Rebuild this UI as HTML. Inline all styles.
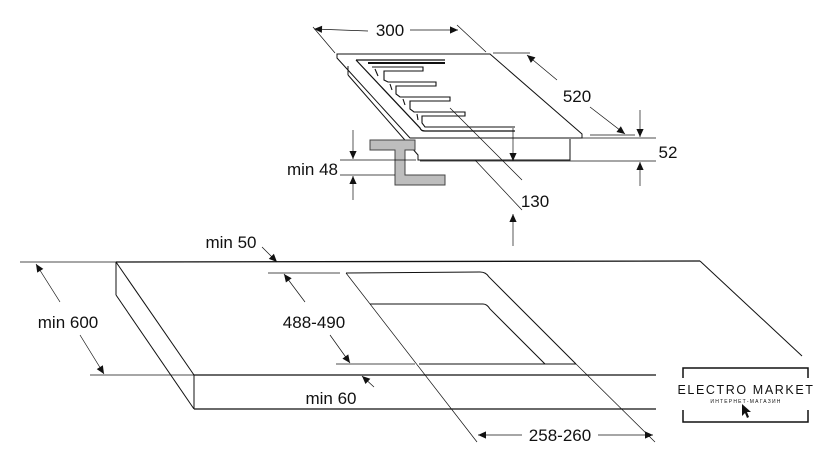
<!DOCTYPE html>
<html><head><style>
html,body{margin:0;padding:0;background:#fff;}
svg{display:block;}
text{font-family:"Liberation Sans",sans-serif;fill:#111;}
</style></head><body>
<svg width="840" height="466" viewBox="0 0 840 466" xmlns="http://www.w3.org/2000/svg">
<defs>
<marker id="a" viewBox="0 0 10 10" refX="10" refY="5" markerWidth="13" markerHeight="8" orient="auto-start-reverse" markerUnits="userSpaceOnUse"><path d="M0,0.5 L10,5 L0,9.5 Z" fill="#111"/></marker>
</defs>
<g stroke="#111" fill="none" stroke-width="1">
<line x1="20" y1="262" x2="116" y2="262" stroke-width="0.7"/>
<line x1="116" y1="262" x2="700" y2="261" stroke-width="1.3"/>
<line x1="700" y1="261" x2="802" y2="356"/>
<line x1="116" y1="262" x2="116" y2="295"/>
<line x1="116" y1="262" x2="194" y2="375"/>
<line x1="116" y1="295" x2="194" y2="409"/>
<line x1="194" y1="375" x2="194" y2="409"/>
<line x1="90" y1="375" x2="194" y2="375" stroke-width="0.7"/>
<line x1="194" y1="375" x2="656" y2="375" stroke-width="1.3"/>
<line x1="194" y1="409" x2="656" y2="409" stroke-width="1.3"/>
<path d="M346,273 L480,272 Q486,272 489,277 L576,364"/>
<line x1="419" y1="364" x2="576" y2="364"/>
<line x1="346" y1="273" x2="477" y2="442" stroke-width="0.7"/>
<line x1="576" y1="364" x2="655" y2="442" stroke-width="0.7"/>
<path d="M370,304 L483,304 Q487,304 490,309 L545,364"/>
<line x1="268" y1="273" x2="340" y2="273" stroke-width="0.7"/>
<line x1="336" y1="364" x2="415" y2="364" stroke-width="0.7"/>
<line x1="60" y1="302" x2="36" y2="264" marker-end="url(#a)" stroke-width="0.7"/>
<line x1="80" y1="335" x2="104" y2="374" marker-end="url(#a)" stroke-width="0.7"/>
<line x1="305" y1="302" x2="284" y2="274" marker-end="url(#a)" stroke-width="0.7"/>
<line x1="330" y1="335" x2="350" y2="363" marker-end="url(#a)" stroke-width="0.7"/>
<line x1="262" y1="247" x2="277" y2="262" marker-end="url(#a)" stroke-width="0.7"/>
<line x1="374" y1="387" x2="362" y2="376" marker-end="url(#a)" stroke-width="0.7"/>
<line x1="522" y1="435" x2="478" y2="435" marker-end="url(#a)" stroke-width="0.7"/>
<line x1="598" y1="435" x2="653" y2="435" marker-end="url(#a)" stroke-width="0.7"/>
<line x1="313" y1="27" x2="335" y2="53" stroke-width="0.7"/>
<line x1="457" y1="25" x2="486" y2="52" stroke-width="0.7"/>
<line x1="368" y1="31" x2="314" y2="29" marker-end="url(#a)" stroke-width="0.7"/>
<line x1="410" y1="30" x2="458" y2="30" marker-end="url(#a)" stroke-width="0.7"/>
<path d="M337,54 L490,54 L582,134 L582,138 L410,138 L337,58 Z"/>
<path d="M348,75 L348,66 M348,75 L418,155 L418,160 L570,160 L570,139"/>
<path d="M356,60 L445,60 M356,60 L420,128 Q421,131 425,131 L515,131" stroke-width="1.2"/>
<path d="M368,63 L445,63" stroke-width="2"/>
<g stroke-width="1.1">
<path d="M372,67 L423,67 L423,71 L384,71 L384,80 L388,82 L436,82 L436,86 L396,86 L396,94 L400,97 L450,97 L450,101 L410,101 L410,109 L414,112 L465,112 L465,116 L422,116 L422,123 L425,127 L515,127"/>
<path d="M375,69 L378,76 M390,84 L392,90 M403,99 L405,105 M417,114 L418,120"/>
</g>
<line x1="493" y1="53" x2="530" y2="53" stroke-width="0.7"/>
<line x1="557" y1="80" x2="527" y2="55" marker-end="url(#a)" stroke-width="0.7"/>
<line x1="590" y1="107" x2="625" y2="134" marker-end="url(#a)" stroke-width="0.7"/>
<line x1="590" y1="135" x2="635" y2="135" stroke-width="0.7"/>
<line x1="582" y1="138" x2="656" y2="138" stroke-width="0.7"/>
<line x1="420" y1="161" x2="656" y2="161" stroke-width="0.7"/>
<line x1="640" y1="110" x2="640" y2="137" marker-end="url(#a)" stroke-width="0.7"/>
<line x1="640" y1="186" x2="640" y2="162" marker-end="url(#a)" stroke-width="0.7"/>
<polygon points="370,140 415,140 415,150 405,150 405,175 445,175 445,185 395,185 395,150 370,150" fill="#bdbdbd" stroke="#444"/>
<line x1="340" y1="160" x2="416" y2="160" stroke-width="0.7"/>
<line x1="340" y1="175" x2="395" y2="175" stroke-width="0.7"/>
<line x1="353" y1="130" x2="353" y2="159" marker-end="url(#a)" stroke-width="0.7"/>
<line x1="353" y1="200" x2="353" y2="176" marker-end="url(#a)" stroke-width="0.7"/>
<line x1="450" y1="108" x2="522" y2="180" stroke-width="0.7"/>
<line x1="475" y1="160" x2="522" y2="210" stroke-width="0.7"/>
<line x1="513" y1="128" x2="513" y2="161" marker-end="url(#a)" stroke-width="0.7"/>
<line x1="513" y1="246" x2="513" y2="214" marker-end="url(#a)" stroke-width="0.7"/>
<path d="M683,378 L683,368 L808,368 L808,378 M683,410 L683,422 L808,422 L808,410" stroke-width="1.5"/>
</g>
<path d="M742,404 L742,416 L745,413 L747,418 L749,417 L747,412 L751,412 Z" fill="#111"/>
<g font-size="17">
<text x="390" y="36" text-anchor="middle">300</text>
<text x="577" y="102" text-anchor="middle">520</text>
<text x="668" y="158" text-anchor="middle">52</text>
<text x="338" y="175" text-anchor="end">min 48</text>
<text x="535" y="207" text-anchor="middle">130</text>
<text x="231" y="248" text-anchor="middle">min 50</text>
<text x="68" y="328" text-anchor="middle">min 600</text>
<text x="314" y="328" text-anchor="middle">488-490</text>
<text x="331" y="404" text-anchor="middle">min 60</text>
<text x="560" y="441" text-anchor="middle">258-260</text>
</g>
<text x="746" y="394" text-anchor="middle" font-size="12.5" letter-spacing="1.6">ELECTRO MARKET</text>
<text x="746" y="403" text-anchor="middle" font-size="5" letter-spacing="1.2">ИНТЕРНЕТ-МАГАЗИН</text>
</svg>
</body></html>
